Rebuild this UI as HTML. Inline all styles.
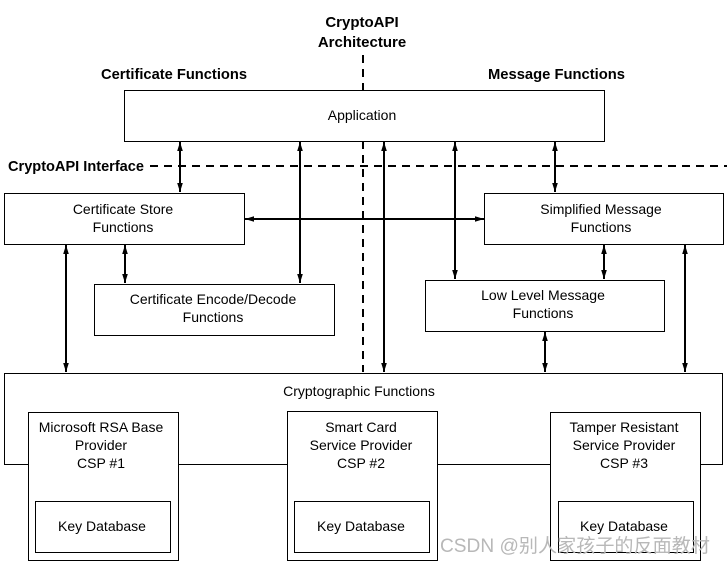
<!DOCTYPE html>
<html><head><meta charset="utf-8"><style>
html,body{margin:0;padding:0;background:#fff;}
svg{display:block;}
text{font-family:"Liberation Sans",Arial,sans-serif;fill:#000;}
</style></head><body>
<svg width="727" height="564" viewBox="0 0 727 564" xmlns="http://www.w3.org/2000/svg">
<defs>
<marker id="a" viewBox="0 0 10 10" refX="10" refY="5" markerWidth="9" markerHeight="7" markerUnits="userSpaceOnUse" orient="auto-start-reverse" preserveAspectRatio="none"><path d="M0,1 L10,5 L0,9 z" fill="#000"/></marker>
</defs>
<g font-weight="bold" text-anchor="middle" font-size="15">
<text x="362" y="27">CryptoAPI</text>
<text x="362" y="47">Architecture</text>
</g>
<g font-weight="bold" font-size="14.6">
<text x="101" y="79" textLength="146" lengthAdjust="spacingAndGlyphs">Certificate Functions</text>
<text x="488" y="79" textLength="137" lengthAdjust="spacingAndGlyphs">Message Functions</text>
<text x="8" y="171" textLength="136" lengthAdjust="spacingAndGlyphs">CryptoAPI Interface</text>
</g>
<g stroke="#000" stroke-width="2" stroke-dasharray="8,6" fill="none">
<line x1="363" y1="55" x2="363" y2="90"/>
<line x1="363" y1="141" x2="363" y2="372"/>
<line x1="150" y1="166" x2="727" y2="166"/>
</g>
<g fill="#fff" stroke="#000" stroke-width="1">
<rect x="124.5" y="90.5" width="480" height="51"/>
<rect x="4.5" y="193.5" width="240" height="51"/>
<rect x="484.5" y="193.5" width="239" height="51"/>
<rect x="94.5" y="284.5" width="240" height="51"/>
<rect x="425.5" y="280.5" width="239" height="51"/>
<path d="M28.5,464.5 H4.5 V373.5 H722.5 V464.5 H700.5 M178.5,464.5 H287.5 M437.5,464.5 H550.5"/>
<rect x="28.5" y="412.5" width="150" height="148"/>
<rect x="287.5" y="411.5" width="150" height="149"/>
<rect x="550.5" y="412.5" width="150" height="148"/>
<rect x="35.5" y="501.5" width="135" height="51"/>
<rect x="294.5" y="501.5" width="135" height="51"/>
<rect x="558.5" y="501.5" width="135" height="51"/>
</g>
<g stroke="#000" stroke-width="2" marker-start="url(#a)" marker-end="url(#a)">
<line x1="180" y1="142" x2="180" y2="192"/>
<line x1="300" y1="142" x2="300" y2="283"/>
<line x1="384" y1="142" x2="384" y2="372"/>
<line x1="455" y1="142" x2="455" y2="279"/>
<line x1="555" y1="142" x2="555" y2="192"/>
<line x1="245" y1="219" x2="484" y2="219"/>
<line x1="66" y1="245" x2="66" y2="372"/>
<line x1="125" y1="245" x2="125" y2="283"/>
<line x1="604" y1="245" x2="604" y2="279"/>
<line x1="685" y1="245" x2="685" y2="372"/>
<line x1="545" y1="332" x2="545" y2="372"/>
</g>
<g font-size="14" text-anchor="middle">
<text x="362" y="120">Application</text>
<text x="123" y="214">Certificate Store</text>
<text x="123" y="232">Functions</text>
<text x="601" y="214">Simplified Message</text>
<text x="601" y="232">Functions</text>
<text x="213" y="304">Certificate Encode/Decode</text>
<text x="213" y="322">Functions</text>
<text x="543" y="300">Low Level Message</text>
<text x="543" y="318">Functions</text>
<text x="359" y="396">Cryptographic Functions</text>
<text x="101" y="432">Microsoft RSA Base</text>
<text x="101" y="450">Provider</text>
<text x="101" y="468">CSP #1</text>
<text x="361" y="432">Smart Card</text>
<text x="361" y="450">Service Provider</text>
<text x="361" y="468">CSP #2</text>
<text x="624" y="432">Tamper Resistant</text>
<text x="624" y="450">Service Provider</text>
<text x="624" y="468">CSP #3</text>
<text x="102" y="531">Key Database</text>
<text x="361" y="531">Key Database</text>
<text x="624" y="531">Key Database</text>
</g>
<text x="440" y="552" font-size="19" textLength="270" lengthAdjust="spacingAndGlyphs" style="fill:#b8b8b8;font-family:'Liberation Sans','Noto Sans CJK SC',sans-serif">CSDN @别人家孩子的反面教材</text>
</svg>
</body></html>
